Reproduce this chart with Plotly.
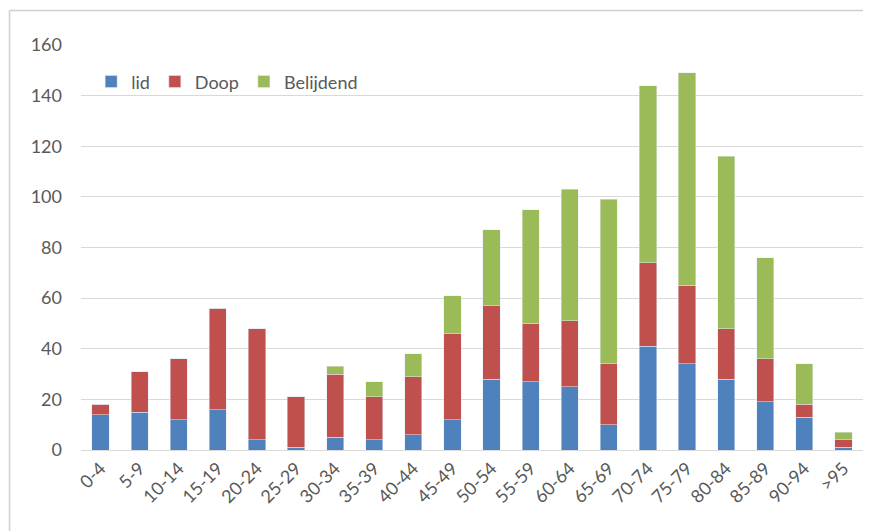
import plotly.graph_objects as go

categories = ["0-4", "5-9", "10-14", "15-19", "20-24", "25-29", "30-34", "35-39", "40-44", "45-49",
              "50-54", "55-59", "60-64", "65-69", "70-74", "75-79", "80-84", "85-89", "90-94", ">95"]
lid = [14, 15, 12, 16, 4, 1, 5, 4, 6, 12, 28, 27, 25, 10, 41, 34, 28, 19, 13, 1]
doop = [4, 16, 24, 40, 44, 20, 25, 17, 23, 34, 29, 23, 26, 24, 33, 31, 20, 17, 5, 3]
belijdend = [0, 0, 0, 0, 0, 0, 3, 6, 9, 15, 30, 45, 52, 65, 70, 84, 68, 40, 16, 3]
y_ticks = [0, 20, 40, 60, 80, 100, 120, 140, 160]

FONT = "Lato, Open Sans, sans-serif"
fig = go.Figure()
fig.add_trace(go.Bar(name="lid", x=categories, y=lid, marker_color="#4F81BD"))
fig.add_trace(go.Bar(name="Doop", x=categories, y=doop, marker_color="#C0504D"))
fig.add_trace(go.Bar(name="Belijdend", x=categories, y=belijdend, marker_color="#9BBB59"))

border = dict(color="#D0D0D0", width=1.5)
fig.update_layout(
    barmode="stack",
    bargap=0.56,
    width=875, height=531,
    margin=dict(l=73, r=20, t=37, b=89),
    paper_bgcolor="white", plot_bgcolor="white",
    font=dict(family=FONT, size=18, color="#595959"),
    legend=dict(orientation="h", x=0.013, y=0.909, xanchor="left", yanchor="middle",
                traceorder="normal",
                bgcolor="rgba(0,0,0,0)", font=dict(size=18, color="#595959"),
                itemwidth=30, tracegroupgap=0),
    showlegend=True,
    shapes=[
        dict(type="line", xref="paper", yref="paper", x0=-0.0914, x1=-0.0914, y0=-0.2, y1=1.085,
             line=border, layer="below"),
        dict(type="line", xref="paper", yref="paper", x0=-0.0914, x1=1.0, y0=1.085, y1=1.085,
             line=border, layer="below"),
    ],
)
fig.update_xaxes(tickangle=-45, showgrid=False, showline=True, linecolor="#D9D9D9", linewidth=1,
                 ticks="", tickfont=dict(size=18))
fig.update_yaxes(range=[0, 160], tickvals=y_ticks, showgrid=True, gridcolor="#D9D9D9", gridwidth=1.3,
                 zeroline=False, showline=False, ticks="", tickfont=dict(size=18), ticklabelstandoff=18)

fig.write_html("out.html")
